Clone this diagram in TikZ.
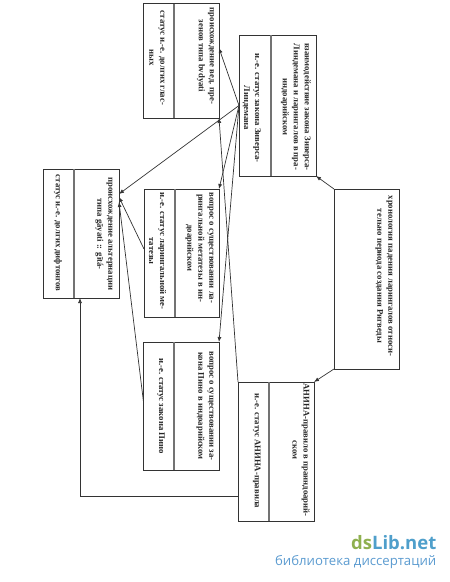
\documentclass[tikz,border=0pt]{standalone}
\usepackage{fontspec}
\setmainfont{Liberation Serif}
\newfontfamily\wmfont{Open Sans}
\usetikzlibrary{arrows.meta}
\definecolor{ln}{gray}{0.2}
\definecolor{dv}{gray}{0.45}
\definecolor{wmgreen}{HTML}{8FB04F}
\definecolor{wmblue}{HTML}{4F9FCB}
\definecolor{wmsub}{HTML}{5B9BD0}
\tikzset{
  x=1pt,y=-1pt,
  frame/.style={draw=ln,line width=0.8pt,fill=white,inner sep=0,outer sep=0},
  dividerline/.style={draw=dv,line width=1.5pt},
  conn/.style={draw=ln,line width=0.7pt,-{Latex[length=5pt,width=4pt]}},
  lbl/.style={rotate=-90,align=center,font=\bfseries\fontsize{8.7}{11}\selectfont,text=black!85},
}
\begin{document}
\begin{tikzpicture}
\useasboundingbox (0,0) rectangle (450,582);
% boxes
\node[frame,minimum width=75.5pt,minimum height=114.5pt] (A) at (181.25,60.75) {};
\node[frame,minimum width=77pt,minimum height=141pt] (B) at (277.5,105.5) {};
\node[frame,minimum width=76pt,minimum height=129pt] (C) at (81,233.5) {};
\node[frame,minimum width=75pt,minimum height=128pt] (D) at (181.5,253) {};
\node[frame,minimum width=75.5pt,minimum height=128pt] (E) at (181.25,406) {};
\node[frame,minimum width=76pt,minimum height=139pt] (F) at (276,451.5) {};
\node[frame,minimum width=65pt,minimum height=180pt] (G) at (366.5,279) {};
% dividers
\draw[dividerline] (174,3.5) -- (174,118);
\draw[dividerline] (271,35) -- (271,176);
\draw[dividerline] (74,169) -- (74,298);
\draw[dividerline] (175,189) -- (175,317);
\draw[dividerline] (174,342) -- (174,470);
\draw[dividerline] (269,382) -- (269,521);
% texts
\node[lbl] (a1) at (205.5,56) {происхождение вед. пре-\\зенов типа bvdyati};
\node[lbl] (a2) at (157,58) {статус и.-е. долгих глас-\\ных};
\node[lbl] (b1) at (296,107) {взаимодействие закона Зиверса-\\Линдемана и ларингалов в пра-\\индоарийском};
\node[lbl] (b2) at (251.7,108) {и.-е. статус закона Зиверса-\\Линдемана};
\node[lbl] (c1) at (104,234) {происхождение альтернации\\типа gāyati :: gītá-};
\node[lbl] (c2) at (58,233) {статус и.-е. долгих дифтонгов};
\node[lbl] (d1) at (199.5,248) {вопрос о существовании ла-\\рингальной метатезы в ин-\\доарийском};
\node[lbl] (d2) at (157.5,251) {и.-е. статус ларингальной ме-\\татезы};
\node[lbl] (e1) at (205,406) {вопрос о существовании за-\\кона Пино в индоарийском};
\node[lbl] (e2) at (161,406) {и.-е. статус закона Пино};
\node[lbl] (f1) at (301,450) {АНИНА-правило в праиндоарий-\\ском};
\node[lbl] (f2) at (256.7,451) {и.-е. статус АНИНА-правила};
\node[lbl] (g1) at (384,276) {хронология падения ларингалов относи-\\тельно периода создания Ригведы};
% connector free ends
\coordinate (aIn) at (219,48);
\coordinate (cInA) at (119,194);
\coordinate (cInB) at (119,197);
\coordinate (cInC) at (119,202);
\coordinate (dOut) at (144,249);
\coordinate (eOut) at (143.5,402);
\coordinate (fOut) at (238,496);
\coordinate (cBot) at (80,298);
\coordinate (turn) at (80,496);
% connectors
\draw[conn] (G.north west) -- (B.south east);
\draw[conn] (G.south west) -- (F.north east);
\draw[conn] (B.west) -- (aIn);
\draw[conn] (B.west) -- (D.north east);
\draw[conn] (B.west) -- (E.north east);
\draw[conn] (B.west) -- (cInA);
\draw[conn] (F.north west) -- (A.south east);
\draw[conn] (dOut) -- (cInB);
\draw[conn] (eOut) -- (cInC);
\draw[conn] (fOut) -- (turn) -- (cBot);
% watermark
\node[anchor=east,inner sep=0,font=\wmfont\bfseries\fontsize{18.5}{18.5}\selectfont] (wm1) at (436.5,543) {\textcolor{wmgreen}{ds}\textcolor{wmblue}{Lib.net}};
\node[anchor=east,inner sep=0,font=\wmfont\fontsize{13.2}{13.2}\selectfont,text=wmsub] (wm2) at (436.5,562) {библиотека диссертаций};
\end{tikzpicture}
\end{document}
